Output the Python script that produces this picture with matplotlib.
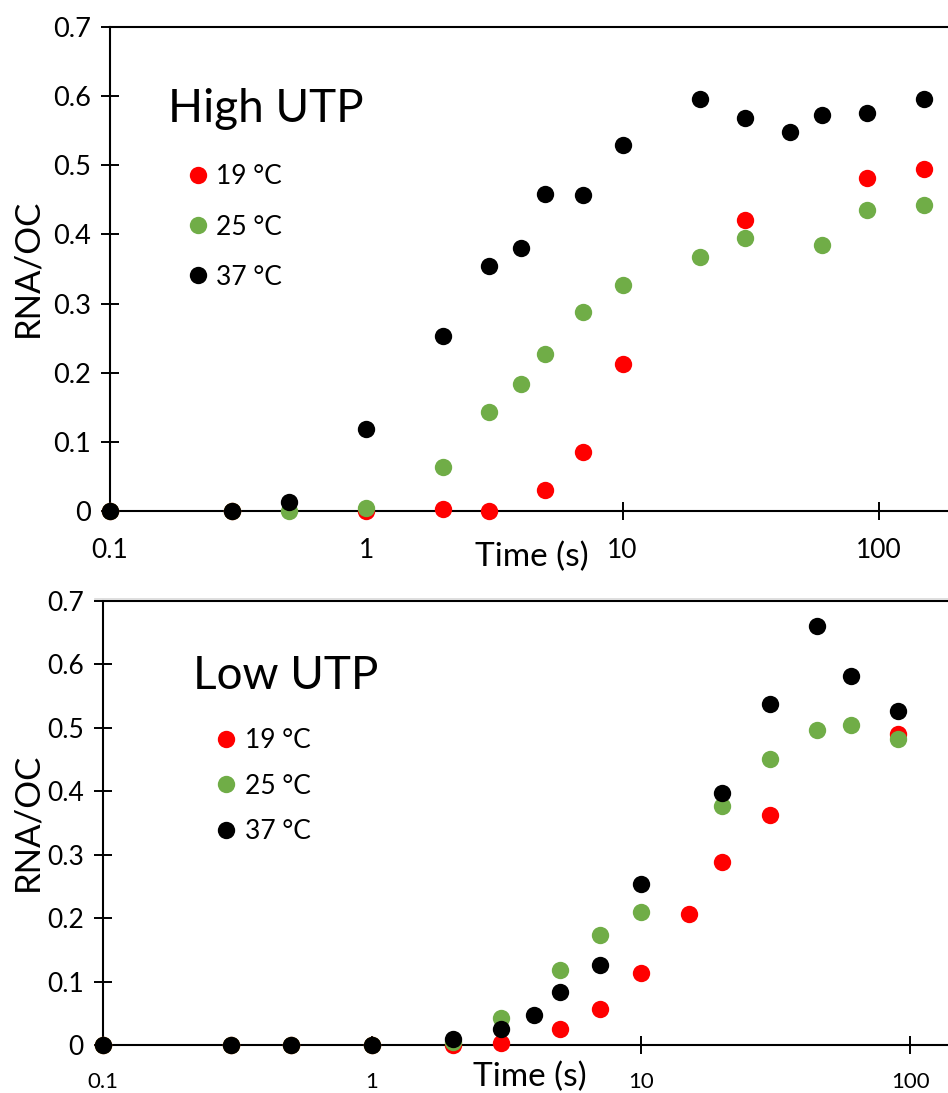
import matplotlib
matplotlib.use("Agg")
import matplotlib.pyplot as plt
from matplotlib.lines import Line2D

plt.rcParams['font.family'] = ['Lato', 'DejaVu Sans']

# ---- High UTP panel ----
hi_t_19 = [0.1, 0.3, 1, 2, 3, 5, 7, 10, 30, 90, 150]
hi_y_19 = [0, 0, 0, 0.003, 0.0, 0.031, 0.086, 0.212, 0.421, 0.481, 0.495]
hi_t_25 = [0.1, 0.3, 0.5, 1, 2, 3, 4, 5, 7, 10, 20, 30, 60, 90, 150]
hi_y_25 = [0, 0, 0, 0.004, 0.064, 0.143, 0.184, 0.227, 0.288, 0.327, 0.368, 0.395, 0.384, 0.436, 0.443]
hi_t_37 = [0.1, 0.3, 0.5, 1, 2, 3, 4, 5, 7, 10, 20, 30, 45, 60, 90, 150]
hi_y_37 = [0, 0, 0.013, 0.119, 0.253, 0.354, 0.381, 0.459, 0.457, 0.529, 0.596, 0.569, 0.548, 0.573, 0.575, 0.596]

# ---- Low UTP panel ----
lo_t_19 = [0.1, 0.3, 0.5, 1, 2, 3, 5, 7, 10, 15, 20, 30, 90]
lo_y_19 = [0, 0, 0, 0, 0.0, 0.003, 0.026, 0.056, 0.113, 0.207, 0.288, 0.363, 0.490]
lo_t_25 = [0.1, 0.3, 0.5, 1, 2, 3, 5, 7, 10, 20, 30, 45, 60, 90]
lo_y_25 = [0, 0, 0, 0, 0.004, 0.043, 0.119, 0.173, 0.209, 0.377, 0.451, 0.496, 0.505, 0.482]
lo_t_37 = [0.1, 0.3, 0.5, 1, 2, 3, 4, 5, 7, 10, 20, 30, 45, 60, 90]
lo_y_37 = [0, 0, 0, 0, 0.009, 0.026, 0.047, 0.083, 0.126, 0.254, 0.397, 0.538, 0.661, 0.582, 0.527]

labels = ['19 °C', '25 °C', '37 °C']
colors = ['#FF0000', '#70AD47', '#000000']
yticks = [0, 0.1, 0.2, 0.3, 0.4, 0.5, 0.6, 0.7]
xticks = [0.1, 1, 10, 100]
xticklabels = ['0.1', '1', '10', '100']

W, H = 948, 1093
fig = plt.figure(figsize=(W / 100, H / 100), dpi=100)

# faint frame line between the two charts
fig.add_artist(Line2D([95 / W, 1], [1 - 599 / H, 1 - 599 / H], color='#d9d9d9', lw=1.2))

ax1 = fig.add_axes([110 / W, 1 - 511 / H, (W - 110) / W, 484 / H])
ax2 = fig.add_axes([103 / W, 1 - 1045 / H, (W - 103) / W, 444 / H])


def style(ax, xmax, xfs, yfs, xpad, title, tx, ty, leg_xy, lspace):
    ax.set_xscale('log')
    ax.set_xlim(0.1, xmax)
    ax.set_ylim(0, 0.7)
    ax.set_yticks(yticks)
    ax.set_yticklabels(['0' if v == 0 else f'{v:.1f}' for v in yticks], fontsize=yfs)
    ax.set_xticks(xticks)
    ax.set_xticklabels(xticklabels, fontsize=xfs)
    ax.minorticks_off()
    ax.spines['right'].set_visible(False)
    for s in ['left', 'top', 'bottom']:
        ax.spines[s].set_linewidth(1.5)
    ax.tick_params(axis='both', direction='inout', length=13.5, width=1.4)
    ax.tick_params(axis='y', pad=7)
    ax.tick_params(axis='x', pad=xpad)
    ax.text(tx, ty, title, transform=ax.transAxes, fontsize=33, va='baseline', ha='left')
    ax.legend(loc='upper left', bbox_to_anchor=leg_xy, frameon=False, fontsize=19,
              handlelength=1.0, handletextpad=0.2, labelspacing=lspace, borderpad=0,
              borderaxespad=0, numpoints=1)


for ax, data in [(ax1, [(hi_t_19, hi_y_19), (hi_t_25, hi_y_25), (hi_t_37, hi_y_37)]),
                 (ax2, [(lo_t_19, lo_y_19), (lo_t_25, lo_y_25), (lo_t_37, lo_y_37)])]:
    for (t, y), c, lab in zip(data, colors, labels):
        ax.plot(t, y, linestyle='none', marker='o', markersize=12.5, markeredgewidth=0,
                color=c, label=lab, clip_on=False, zorder=3)

style(ax1, 186, 19, 19.5, 13, 'High UTP', 0.069, 0.804, (0.089, 0.716), 0.95)
style(ax2, 138, 16, 19, 13, 'Low UTP', 0.1065, 0.802, (0.130, 0.714), 0.78)

fig.text(532 / W, 1 - 557 / H, 'Time (s)', fontsize=24, ha='center', va='center')
fig.text(530 / W, 1 - 1077 / H, 'Time (s)', fontsize=24, ha='center', va='center')
fig.text(27 / W, 1 - 268 / H, 'RNA/OC', fontsize=25, ha='center', va='center', rotation=90)
fig.text(27 / W, 1 - 822 / H, 'RNA/OC', fontsize=25, ha='center', va='center', rotation=90)

fig.savefig('out.png', dpi=100)
